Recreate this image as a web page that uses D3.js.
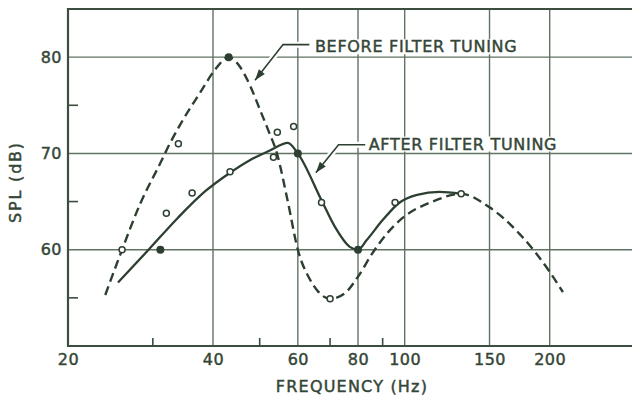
<!DOCTYPE html>
<html>
<head>
<meta charset="utf-8">
<script src="https://cdn.jsdelivr.net/npm/d3@7"></script>
<style>
  html, body { margin: 0; padding: 0; background: #ffffff; }
  svg { display: block; }
  text { font-family: "DejaVu Sans", sans-serif; fill: #344637; stroke: #344637; stroke-width: 0.45px; }
</style>
</head>
<body>
<svg id="chart" width="632" height="395"></svg>
<script>
// Axis ticks and grid
const xTickValues = [20, 40, 60, 80, 100, 150, 200];
const xGridValues = [40, 60, 80, 100, 150, 200];
const xMinorValues = [30, 50, 70, 90];
const yTickValues = [60, 70, 80];
const yMinorValues = [55, 65, 75];

// Response before tuning (dashed), frequency in Hz and SPL in dB
const beforeFreq = [23.9, 25.9, 28.2, 31.1, 32.6, 34.2, 37.6, 40.4, 43.1, 45.5, 47.7, 50.1, 52.0, 54.3, 57.2, 60, 63.6, 66.0, 70, 75.2, 80, 85.6, 92.3, 99, 114.3, 131, 150, 173.5, 200, 213];
const beforeSPL  = [55.3, 60, 64.7, 69.0, 71.1, 73.0, 76.3, 78.7, 80, 79.0, 77.1, 74.5, 72.5, 70.0, 65.0, 60.0, 56.9, 55.7, 54.9, 55.5, 57.2, 59.6, 61.8, 63.3, 65.0, 65.8, 64.4, 61.6, 57.7, 55.6];

// Response after tuning (solid)
const afterFreq = [25.4, 29.4, 33.8, 38.6, 43.4, 47.7, 52.5, 57.2, 60, 67.1, 71.6, 76.9, 80, 83.4, 90.1, 97.6, 106.1, 118, 131];
const afterSPL  = [56.6, 60, 63.3, 66.1, 68.0, 69.3, 70.3, 71.1, 70, 65.2, 62.4, 60.3, 60, 61.0, 63.1, 64.9, 65.7, 66.0, 65.8];

// Measured points
const openFreq = [25.9, 32.0, 33.9, 36.2, 43.4, 53.4, 54.4, 58.8, 67.2, 70, 95.5, 131];
const openSPL  = [60, 63.8, 71, 65.9, 68.1, 69.6, 72.2, 72.8, 64.9, 54.9, 64.9, 65.8];
const filledFreq = [31.1, 43.1, 60, 80];
const filledSPL  = [60, 80, 70, 60];

// Callout labels and their leader anchors (Hz, dB)
const calloutLabels = ["BEFORE FILTER TUNING", "AFTER FILTER TUNING"];
const calloutTip    = [[48.9, 77.6], [65.4, 68.0]];
const calloutElbow  = [[55.9, 81.3], [72.9, 70.9]];
const calloutEnd    = [[63.4, 81.3], [82.8, 70.9]];
const calloutText   = [[65.1, 81.1], [84.2, 71.0]];

const W = 632, H = 395;
const ink = "#2d3f30", grid = "#617363";

const svg = d3.select("#chart");
svg.append("rect").attr("width", W).attr("height", H).attr("fill", "#ffffff");

const x = d3.scaleLog().domain([20, 200]).range([68, 549.7]);
const y = d3.scaleLinear().domain([50, 85]).range([346, 9]);
const x0 = x(20), yBot = y(50), yTop = y(85);

// grid
const g = svg.append("g");
g.selectAll("line.vg").data(xGridValues).join("line")
  .attr("x1", d => x(d)).attr("x2", d => x(d))
  .attr("y1", yBot).attr("y2", yTop)
  .attr("stroke", grid).attr("stroke-width", 1.4);
g.selectAll("line.hg").data(yTickValues).join("line")
  .attr("x1", x0).attr("x2", W)
  .attr("y1", d => y(d)).attr("y2", d => y(d))
  .attr("stroke", grid).attr("stroke-width", 1.4);

// frame
const frame = svg.append("g").attr("stroke", "#3c4e3f").attr("stroke-width", 2.2);
frame.append("line").attr("x1", x0).attr("x2", x0).attr("y1", yTop - 1).attr("y2", yBot + 1);
frame.append("line").attr("x1", x0 - 1).attr("x2", W).attr("y1", yBot).attr("y2", yBot);
frame.append("line").attr("x1", x0 - 1).attr("x2", W).attr("y1", yTop).attr("y2", yTop);

// minor ticks
frame.selectAll("line.mx").data(xMinorValues).join("line")
  .attr("x1", d => x(d)).attr("x2", d => x(d))
  .attr("y1", yBot).attr("y2", yBot - 8).attr("stroke-width", 1.6);
frame.selectAll("line.my").data(yMinorValues).join("line")
  .attr("x1", x0).attr("x2", x0 + 10)
  .attr("y1", d => y(d)).attr("y2", d => y(d)).attr("stroke-width", 1.6);

// axes (labels only)
const xAxis = svg.append("g").attr("transform", `translate(0,${yBot})`)
  .call(d3.axisBottom(x).tickValues(xTickValues).tickSize(0).tickPadding(8).tickFormat(d3.format("d")));
const yAxis = svg.append("g").attr("transform", `translate(${x0},0)`)
  .call(d3.axisLeft(y).tickValues(yTickValues).tickSize(0).tickPadding(6).tickFormat(d3.format("d")));
[xAxis, yAxis].forEach(a => {
  a.select(".domain").remove();
  a.selectAll("text").attr("font-size", 16).attr("letter-spacing", 0.5)
    .attr("font-family", "DejaVu Sans, sans-serif").attr("fill", "#344637");
});

// axis titles
svg.append("text").attr("x", 352).attr("y", 392)
  .attr("text-anchor", "middle").attr("font-size", 16).attr("letter-spacing", 1.2)
  .text("FREQUENCY (Hz)");
svg.append("text").attr("transform", "translate(21,182) rotate(-90)")
  .attr("text-anchor", "middle").attr("font-size", 16).attr("letter-spacing", 1.8)
  .text("SPL (dB)");

// curves
const line = (fs, vs) => d3.line().curve(d3.curveMonotoneX)
  .x(i => x(fs[i])).y(i => y(vs[i]))(d3.range(fs.length));

svg.append("path").attr("d", line(beforeFreq, beforeSPL))
  .attr("fill", "none").attr("stroke", ink).attr("stroke-width", 2.4)
  .attr("stroke-dasharray", "9,5").attr("stroke-linecap", "butt");
svg.append("path").attr("d", line(afterFreq, afterSPL))
  .attr("fill", "none").attr("stroke", ink).attr("stroke-width", 2.3);

// points
svg.selectAll("circle.open").data(d3.range(openFreq.length)).join("circle")
  .attr("cx", i => x(openFreq[i])).attr("cy", i => y(openSPL[i])).attr("r", 3)
  .attr("fill", "#ffffff").attr("stroke", ink).attr("stroke-width", 1.5);
svg.selectAll("circle.filled").data(d3.range(filledFreq.length)).join("circle")
  .attr("cx", i => x(filledFreq[i])).attr("cy", i => y(filledSPL[i])).attr("r", 4)
  .attr("fill", ink);

// callouts
calloutLabels.forEach((label, i) => {
  const tip = [x(calloutTip[i][0]), y(calloutTip[i][1])];
  const elb = [x(calloutElbow[i][0]), y(calloutElbow[i][1])];
  const end = [x(calloutEnd[i][0]), y(calloutEnd[i][1])];
  const pts = [end, elb, tip];
  const cg = svg.append("g");
  cg.append("path").attr("d", d3.line()(pts)).attr("fill", "none")
    .attr("stroke", "#ffffff").attr("stroke-width", 6);
  cg.append("path").attr("d", d3.line()(pts)).attr("fill", "none")
    .attr("stroke", ink).attr("stroke-width", 1.6);
  const ang = Math.atan2(tip[1] - elb[1], tip[0] - elb[0]);
  const L = 11, hw = 3.8;
  const bx = tip[0] - L * Math.cos(ang), by = tip[1] - L * Math.sin(ang);
  const px = -Math.sin(ang) * hw, py = Math.cos(ang) * hw;
  cg.append("path")
    .attr("d", `M${tip[0]},${tip[1]}L${bx + px},${by + py}L${bx - px},${by - py}Z`)
    .attr("fill", ink);
  const t = cg.append("text").attr("x", x(calloutText[i][0])).attr("y", y(calloutText[i][1]))
    .attr("dy", "0.36em").attr("font-size", 16).attr("letter-spacing", 0.7).text(label);
  const bb = t.node().getBBox();
  cg.insert("rect", "text").attr("x", bb.x - 2).attr("y", bb.y + 2)
    .attr("width", bb.width + 3).attr("height", bb.height - 4).attr("fill", "#ffffff");
});
</script>
</body>
</html>
